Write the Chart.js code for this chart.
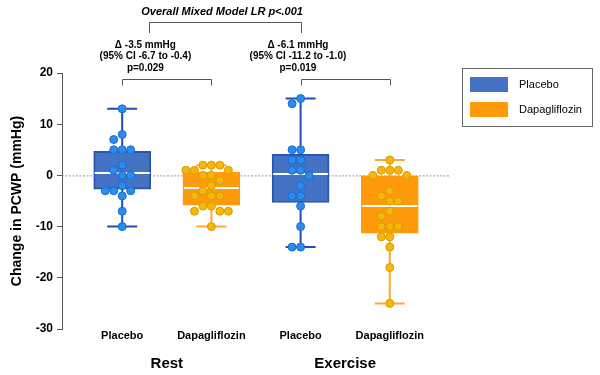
<!DOCTYPE html>
<html>
<head>
<meta charset="utf-8">
<script src="https://cdn.jsdelivr.net/npm/chart.js@4.4.1/dist/chart.umd.min.js"></script>
<style>
  html, body { margin: 0; padding: 0; background: #fff; }
</style>
</head>
<body>
<canvas id="chart" width="600" height="375"></canvas>
<script>
const FONT = '"Liberation Sans", Arial, sans-serif';

// categories along the x axis, two per group
const categories = ['Placebo', 'Dapagliflozin', 'Placebo', 'Dapagliflozin'];
const xPositions = [1, 2, 3, 4];
const groups = ['Rest', 'Exercise'];
const groupCenters = [1.5, 3.5];
const yTicks = [20, 10, 0, -10, -20, -30];

// individual changes (mmHg)
const restPlacebo = [13, 8, 7, 5, 5, 5, 2, 1, 0, 0, -2, -3, -3, -3, -4, -7, -10];
const restDapa = [2, 2, 2, 1, 1, 1, 0, 0, -1, -2, -3, -4, -4, -4, -6, -6, -7, -7, -7, -10];
const exercisePlacebo = [15, 14, 5, 5, 3, 3, 1, 1, 0, -2, -4, -4, -6, -10, -14, -14];
const exerciseDapa = [3, 1, 1, 1, 0, 0, -3, -4, -5, -5, -7, -8, -10, -10, -10, -12, -12, -14, -18, -25];

// box statistics per category (same order as categories)
const boxMin = [-10, -10, -14, -25];
const boxQ1 = [-2.7, -5.8, -5.3, -11.3];
const boxMedian = [0.4, -2.5, 0.2, -6];
const boxQ3 = [4.7, 0.6, 4.1, -0.1];
const boxMax = [13, 2, 15, 3];

// annotation texts
const overallLabel = 'Overall Mixed Model LR p<.001';
const restDelta = ['Δ -3.5 mmHg', '(95% CI -6.7 to -0.4)', 'p=0.029'];
const exerciseDelta = ['Δ -6.1 mmHg', '(95% CI -11.2 to -1.0)', 'p=0.019'];

const armStyle = {
  Placebo: { fill: '#4472C4', border: '#2A55B5', whisker: '#1F4DB3', dot: '#2A8CEB', dotBorder: '#1A6BD0' },
  Dapagliflozin: { fill: '#FF9A0D', border: '#FF9A0D', whisker: '#FFA733', dot: '#F6B70A', dotBorder: '#D99A00' }
};

// greedy beeswarm: put each dot in the nearest free slot beside the centre
function swarm(values, center) {
  const placed = [];
  return values.slice().sort((a, b) => b - a).map(v => {
    let k = 0;
    for (let step = 0; ; step++) {
      k = step === 0 ? 0 : (step % 2 ? -Math.ceil(step / 2) : step / 2);
      if (!placed.some(p => p.k === k && Math.abs(p.v - v) < 1.6)) break;
    }
    placed.push({ k, v });
    return { x: center + k * 0.095, y: v };
  });
}

function boxData(indices) {
  return indices.map(i => ({ x: xPositions[i], y: [boxQ1[i], boxQ3[i]] }));
}

const extras = {
  id: 'boxExtras',
  beforeDatasetsDraw(chart) {
    const { ctx, chartArea, scales: { x, y } } = chart;
    ctx.save();
    // dotted zero line
    ctx.strokeStyle = '#9a9a9a';
    ctx.lineWidth = 1;
    ctx.setLineDash([2, 1.5]);
    ctx.beginPath();
    ctx.moveTo(chartArea.left, y.getPixelForValue(0) + 0.5);
    ctx.lineTo(chartArea.right, y.getPixelForValue(0) + 0.5);
    ctx.stroke();
    ctx.setLineDash([]);
    // whiskers and caps
    xPositions.forEach((pos, i) => {
      const st = armStyle[categories[i]];
      const cx = x.getPixelForValue(pos);
      const top = y.getPixelForValue(boxMax[i]);
      const bot = y.getPixelForValue(boxMin[i]);
      ctx.strokeStyle = st.whisker;
      ctx.lineWidth = 2;
      ctx.beginPath();
      ctx.moveTo(cx, top);
      ctx.lineTo(cx, bot);
      ctx.moveTo(cx - 15, top);
      ctx.lineTo(cx + 15, top);
      ctx.moveTo(cx - 15, bot);
      ctx.lineTo(cx + 15, bot);
      ctx.stroke();
    });
    ctx.restore();
  },
  afterDatasetDraw(chart, args) {
    const ds = chart.data.datasets[args.index];
    if (ds.type !== 'bar') return;
    const { ctx, scales: { y } } = chart;
    ctx.save();
    ctx.strokeStyle = '#ffffff';
    ctx.lineWidth = 2;
    args.meta.data.forEach((bar, j) => {
      const i = xPositions.indexOf(ds.data[j].x);
      const my = Math.round(y.getPixelForValue(boxMedian[i]));
      ctx.beginPath();
      ctx.moveTo(bar.x - bar.width / 2 + 1, my);
      ctx.lineTo(bar.x + bar.width / 2 - 1, my);
      ctx.stroke();
    });
    ctx.restore();
  },
  afterDraw(chart) {
    const { ctx, chartArea, scales: { x, y } } = chart;
    const top = chartArea.top;
    ctx.save();
    ctx.fillStyle = '#000';
    ctx.textAlign = 'center';
    ctx.textBaseline = 'middle';

    // overall bracket
    ctx.font = 'italic bold 11px ' + FONT;
    ctx.fillText(overallLabel, x.getPixelForValue(2.12), top - 61);
    ctx.strokeStyle = '#555';
    ctx.lineWidth = 1;
    const ox1 = Math.round(x.getPixelForValue(1.3)) + 0.5;
    const ox2 = Math.round(x.getPixelForValue(3.0)) + 0.5;
    ctx.beginPath();
    ctx.moveTo(ox1, top - 40);
    ctx.lineTo(ox1, top - 50.5);
    ctx.lineTo(ox2, top - 50.5);
    ctx.lineTo(ox2, top - 40);
    ctx.stroke();

    // per-group differences
    ctx.font = 'bold 10px ' + FONT;
    [[restDelta, 1.26, 1, 2], [exerciseDelta, 2.97, 3, 4]].forEach(([lines, tx, a, b]) => {
      lines.forEach((t, k) => ctx.fillText(t, x.getPixelForValue(tx), top - 28 + k * 11.5));
      const bx1 = Math.round(x.getPixelForValue(a)) + 0.5;
      const bx2 = Math.round(x.getPixelForValue(b)) + 0.5;
      const by = Math.round(y.getPixelForValue(18.9)) + 0.5;
      ctx.beginPath();
      ctx.moveTo(bx1, by + 6);
      ctx.lineTo(bx1, by);
      ctx.lineTo(bx2, by);
      ctx.lineTo(bx2, by + 6);
      ctx.stroke();
    });

    // group labels
    ctx.font = 'bold 15px ' + FONT;
    groups.forEach((g, i) => ctx.fillText(g, x.getPixelForValue(groupCenters[i]), chartArea.bottom + 35));

    // legend box
    const lx = chartArea.right + 12;
    const ly = top - 5;
    ctx.strokeStyle = '#666';
    ctx.strokeRect(lx + 0.5, ly + 0.5, 130, 58);
    ctx.font = '11px ' + FONT;
    ctx.textAlign = 'left';
    chart.data.datasets.filter(d => d.type === 'bar').forEach((d, k) => {
      const sy = ly + 9 + k * 25;
      ctx.fillStyle = d.backgroundColor;
      ctx.fillRect(lx + 8, sy, 38, 15);
      ctx.fillStyle = '#000';
      ctx.fillText(d.label, lx + 57, sy + 8);
    });
    ctx.restore();
  }
};

new Chart(document.getElementById('chart'), {
  type: 'bar',
  data: {
    datasets: [
      { type: 'scatter', label: 'Placebo points', data: [...swarm(restPlacebo, 1), ...swarm(exercisePlacebo, 3)],
        pointRadius: 4, pointBackgroundColor: armStyle.Placebo.dot, pointBorderColor: armStyle.Placebo.dotBorder,
        pointBorderWidth: 1, order: 0 },
      { type: 'scatter', label: 'Dapagliflozin points', data: [...swarm(restDapa, 2), ...swarm(exerciseDapa, 4)],
        pointRadius: 4, pointBackgroundColor: armStyle.Dapagliflozin.dot, pointBorderColor: armStyle.Dapagliflozin.dotBorder,
        pointBorderWidth: 1, order: 0 },
      { type: 'bar', label: 'Placebo', data: boxData([0, 2]),
        backgroundColor: armStyle.Placebo.fill, borderColor: armStyle.Placebo.border, borderWidth: 2,
        borderSkipped: false, barThickness: 57, grouped: false, order: 2 },
      { type: 'bar', label: 'Dapagliflozin', data: boxData([1, 3]),
        backgroundColor: armStyle.Dapagliflozin.fill, borderColor: armStyle.Dapagliflozin.border, borderWidth: 2,
        borderSkipped: false, barThickness: 57, grouped: false, order: 2 }
    ]
  },
  options: {
    responsive: false,
    animation: false,
    layout: { padding: { left: 4, top: 73, right: 150, bottom: 0 } },
    plugins: { legend: { display: false }, tooltip: { enabled: false } },
    scales: {
      x: {
        type: 'linear', min: 0.325, max: 4.675, offset: false,
        grid: { display: false, drawTicks: false, tickLength: 0 }, border: { display: false },
        afterBuildTicks: s => { s.ticks = xPositions.map(v => ({ value: v })); },
        ticks: { callback: (v, i) => categories[i], autoSkip: false, maxRotation: 0, padding: 0,
                 color: '#000', font: { family: FONT, size: 11, weight: 'bold' } },
        afterFit: s => { s.height = 46; }
      },
      y: {
        min: -30, max: 20,
        afterBuildTicks: s => { s.ticks = yTicks.map(v => ({ value: v })); },
        grid: { drawOnChartArea: false, tickLength: 5, tickColor: '#555', color: '#555' },
        border: { color: '#555', width: 1 },
        ticks: { color: '#000', padding: 4, font: { family: FONT, size: 12, weight: 'bold' } },
        title: { display: true, text: 'Change in PCWP (mmHg)', color: '#000', padding: { top: 5, bottom: 0 },
                 font: { family: FONT, size: 14, weight: 'bold' } },
        afterFit: s => { s.width = 58; }
      }
    }
  },
  plugins: [extras]
});
</script>
</body>
</html>
